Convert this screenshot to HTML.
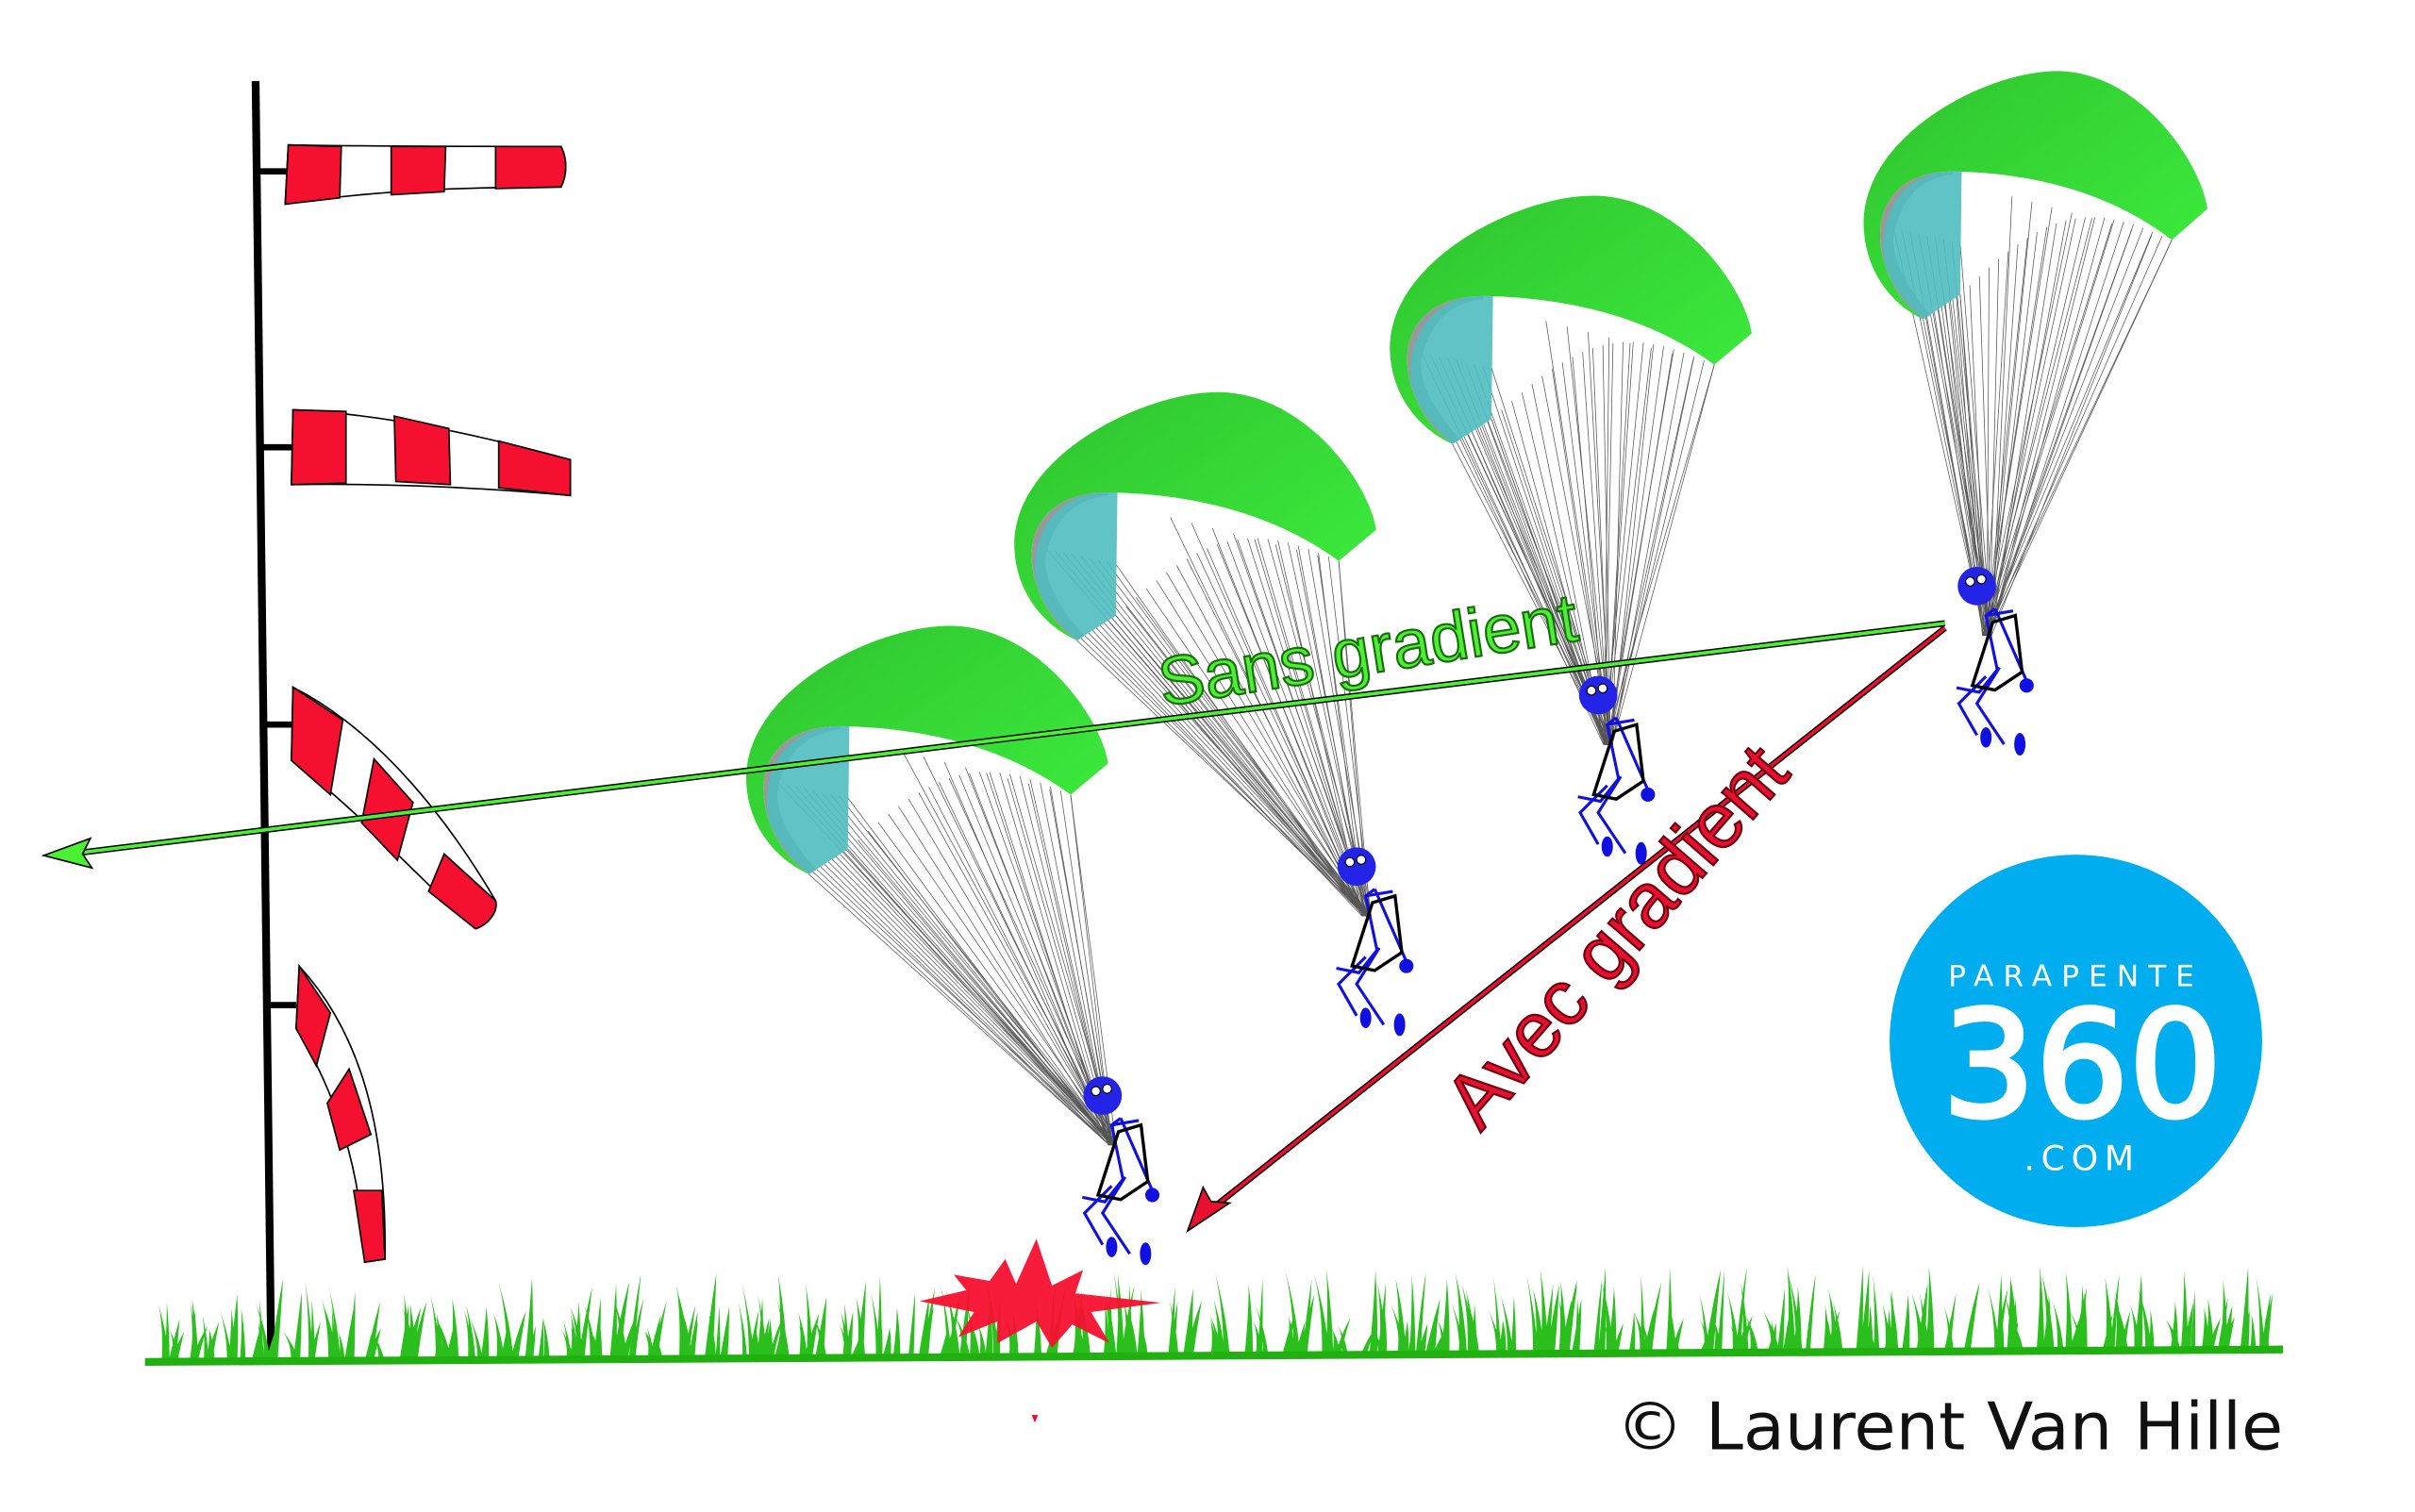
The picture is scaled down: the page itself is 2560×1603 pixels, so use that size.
<!DOCTYPE html>
<html><head><meta charset="utf-8"><style>
html,body{margin:0;padding:0;background:#fff;}
svg{display:block;}
</style></head><body>
<svg id="s" width="2560" height="1603" viewBox="0 0 1549.6 970.3" xmlns="http://www.w3.org/2000/svg">
<defs>
<linearGradient id="cg" x1="0" y1="0" x2="1" y2="1">
<stop offset="0" stop-color="#2fc32f"/><stop offset="1" stop-color="#3ef03e"/>
</linearGradient>
</defs>
<rect width="1549.6" height="970.3" fill="#fff"/>
<g id="lines" stroke="#555" stroke-width="0.45" fill="none"></g>
<g id="canopies"></g>
<line x1="164" y1="52" x2="174" y2="870" stroke="#000" stroke-width="5"/>
<g stroke="#000" stroke-width="1">
<line x1="165" y1="110" x2="185" y2="110" stroke-width="4"/>
<path d="M185,93 L183,131 C240,122 300,120 360,120 C364,112 364,102 360,94 C300,94 240,94 185,93 Z" fill="#fff"/>
<path d="M185,93 L183,131 L218,127 L219,94 Z" fill="#f5102f"/>
<path d="M251,94 L251,125 L285,123 L286,94 Z" fill="#f5102f"/>
<path d="M318,94 L318,121 L360,120 C364,112 364,102 360,94 Z" fill="#f5102f"/>
<line x1="166" y1="287" x2="188" y2="287" stroke-width="4"/>
<path d="M188,263 L187,311 C250,310 310,313 366,318 L366,295 C310,280 250,266 188,263 Z" fill="#fff"/>
<path d="M188,263 L187,311 L222,310 L222,264 Z" fill="#f5102f"/>
<path d="M253,267 L254,309 L289,311 L288,275 Z" fill="#f5102f"/>
<path d="M320,283 L320,313 L366,318 L366,295 Z" fill="#f5102f"/>
<line x1="167" y1="465" x2="188" y2="465" stroke-width="4"/>
<path d="M188,441 L187,488 C230,520 265,560 305,596 C312,594 320,586 318,578 C290,530 245,470 188,441 Z" fill="#fff"/>
<path d="M188,441 L187,488 L212,510 L220,462 Z" fill="#f5102f"/>
<path d="M240,487 L232,528 L255,552 L265,515 Z" fill="#f5102f"/>
<path d="M285,548 L275,572 L305,596 C312,594 320,586 318,578 Z" fill="#f5102f"/>
<line x1="170" y1="645" x2="190" y2="645" stroke-width="4"/>
<path d="M192,620 L190,660 C215,700 232,750 234,810 L247,808 C248,740 238,670 192,620 Z" fill="#fff"/>
<path d="M192,620 L190,660 L203,684 L212,650 Z" fill="#f5102f"/>
<path d="M224,686 L210,708 L218,738 L238,728 Z" fill="#f5102f"/>
<path d="M245,764 L227,764 L234,810 L247,808 Z" fill="#f5102f"/>
</g>
<g id="pilots"></g>
<g>
<line x1="1248" y1="400" x2="45" y2="548" stroke="#000" stroke-width="4"/>
<line x1="1248" y1="400" x2="45" y2="548" stroke="#4cf032" stroke-width="2.2"/>
<path d="M28,549 L58,538 L53,548 L59,557 Z" fill="#4cf032" stroke="#000" stroke-width="1"/>
<line x1="1248" y1="403" x2="776" y2="777" stroke="#000" stroke-width="4"/>
<line x1="1248" y1="403" x2="776" y2="777" stroke="#e8102e" stroke-width="2.2"/>
<path d="M762,790 L772,762 L777,771 L789,772 Z" fill="#e8102e" stroke="#000" stroke-width="1"/>
</g>
<text x="0" y="0" transform="translate(880,432) rotate(-9)" text-anchor="middle" font-family="Liberation Sans, sans-serif" font-size="44" fill="#4cf032" stroke="#1a6a10" stroke-width="1.3">Sans gradient</text>
<text x="0" y="0" transform="translate(1050,612) rotate(-49)" text-anchor="middle" font-family="Liberation Sans, sans-serif" font-size="50" fill="#e8102e" stroke="#6a0010" stroke-width="1.3">Avec gradient</text>
<circle cx="1332" cy="668" r="119.5" fill="#00aeef"/>
<text x="1332" y="633" text-anchor="middle" font-family="DejaVu Sans, sans-serif" font-size="19" letter-spacing="6" fill="#fff">PARAPENTE</text>
<text x="1336" y="716" text-anchor="middle" font-family="DejaVu Sans, sans-serif" font-size="94" letter-spacing="0" fill="#fff" stroke="#fff" stroke-width="3">360</text>
<text x="1336" y="751" text-anchor="middle" font-family="DejaVu Sans, sans-serif" font-size="22" letter-spacing="4" fill="#fff">.COM</text>
<g id="grass" fill="#2bbf1e"></g>
<path d="M590,835 L620,828 L612,818 L635,822 L645,808 L652,824 L665,795 L675,825 L695,815 L690,830 L745,836 L700,842 L712,862 L688,850 L675,865 L665,848 L640,862 L640,848 L615,858 L625,842 Z" fill="#f5102f" opacity="0.95"/>
<line x1="93" y1="874" x2="1465" y2="866" stroke="#20b010" stroke-width="5"/>
<path d="M662,908 L666,908 L664,913 Z" fill="#e8102e"/>
<text x="1465" y="930" text-anchor="end" font-family="DejaVu Sans, sans-serif" font-size="42" fill="#111" textLength="428" lengthAdjust="spacingAndGlyphs">© Laurent Van Hille</text>
</svg>
<script>
var NS="http://www.w3.org/2000/svg";
function el(t,a,p){var e=document.createElementNS(NS,t);for(var k in a)e.setAttribute(k,a[k]);p.appendChild(e);return e;}
var G=[{o:[479,402],p:[722,735]},{o:[651,252],p:[885,588]},{o:[892,126],p:[1040,478]},{o:[1196,46],p:[1283,408]}];
var outer="M0,102 C-5,40 90,-5 138,0 C190,5 228,60 232,88 L208,108 C170,80 120,65 60,64 C20,64 5,90 13,120 C20,145 35,155 40,159 C20,150 2,130 0,102 Z";
var cyan="M60,64 L66,64 L65,143 L40,159 C25,145 12,130 13,110 C15,80 35,64 60,64 Z";
var cg=document.getElementById('canopies'),lg=document.getElementById('lines'),pg=document.getElementById('pilots');
var pts=[];
for(var i=0;i<=10;i++){var t=i/10;pts.push([40+25*t,159-16*t]);}
for(var i=0;i<=22;i++){var t=i/22;pts.push([65+143*t,143-35*t-30*Math.sin(Math.PI*t)]);}
for(var i=0;i<=8;i++){var t=i/8;pts.push([100+108*t,80+28*t]);}
for(var i=0;i<=8;i++){var t=i/8;pts.push([20+45*t,100+10*t]);}
G.forEach(function(g,k){
  var sx=k==3?0.95:1, sy=1;
  pts.forEach(function(q){
    el('line',{x1:g.o[0]+q[0]*sx,y1:g.o[1]+q[1]*sy,x2:g.p[0]-8+(Math.random()*6-3),y2:g.p[1]},lg);
  });
  var gg=el('g',{transform:'translate('+g.o[0]+','+g.o[1]+') scale('+sx+','+sy+')'},cg);
  el('path',{d:outer,fill:'url(#cg)'},gg);
  el('path',{d:"M60,64 C20,64 5,90 13,120 C20,145 35,155 40,159 L45,156 C30,140 18,120 20,105 C25,80 40,68 60,66Z",fill:'#999'},gg);
  el('path',{d:cyan,fill:'#4fbcc0',opacity:0.9},gg);
  var x=g.p[0],y=g.p[1];
  var pp=el('g',{transform:'translate('+x+','+y+') scale(1.45) translate('+(-x)+','+(-y)+')',stroke:'#1010e0','stroke-width':1.3,fill:'none'},pg);
  el('circle',{cx:x-10,cy:y-22,r:8.5,fill:'#2424e8',stroke:'none'},pp);
  el('circle',{cx:x-13,cy:y-24,r:2,fill:'#fff',stroke:'#000','stroke-width':0.5},pp);
  el('circle',{cx:x-8,cy:y-25,r:2,fill:'#fff',stroke:'#000','stroke-width':0.5},pp);
  el('path',{d:'M'+(x-2)+','+(y-12)+' l-4,3 l5,24 l-8,10 l-10,-2 M'+(x-6)+','+(y-9)+' l12,-2 M'+(x-2)+','+(y-12)+' l14,32 M'+(x)+','+(y+14)+' l-10,16 l12,18 M'+(x-6)+','+(y+18)+' l-12,12 l8,14'},pp);
  el('path',{d:'M'+(x-3)+','+(y-6)+' l10,-3 l3,25 l-12,8 l-10,-2 Z',stroke:'#000','stroke-width':1.4},pp);
  el('ellipse',{cx:x+12,cy:y+22,rx:2.5,ry:2.5,fill:'#1010e0'},pp);
  el('ellipse',{cx:x+9,cy:y+48,rx:2.5,ry:5,fill:'#1010e0',stroke:'none'},pp);
  el('ellipse',{cx:x-6,cy:y+45,rx:2.5,ry:4.5,fill:'#1010e0',stroke:'none'},pp);
});
var gr=document.getElementById('grass');var s=7;
function rnd(){s=(s*9301+49297)%233280;return s/233280;}
var d="";
for(var cx=112;cx<1462;cx+=16+rnd()*10){
  var n=4+Math.floor(rnd()*4);
  for(var j=0;j<n;j++){
    var x=cx+(rnd()-0.5)*14;
    var base=872-(x-93)*0.006;
    var h=14+rnd()*40, lean=(rnd()-0.5)*16, w=1.4+rnd()*1.2;
    d+="M"+(x-w)+","+base+" Q"+(x+lean*0.3)+","+(base-h*0.6)+" "+(x+lean)+","+(base-h)+" Q"+(x+lean*0.3+w)+","+(base-h*0.5)+" "+(x+w)+","+base+"Z ";
  }
}
el('path',{d:d},gr);
</script>
</body></html>
